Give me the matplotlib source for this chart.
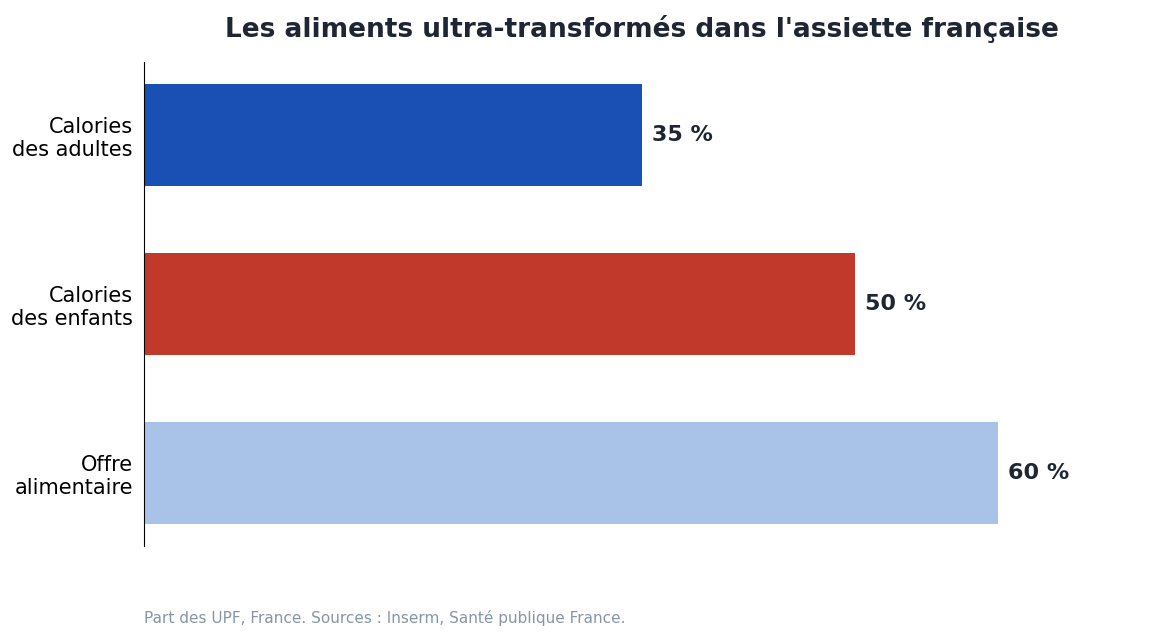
import matplotlib
matplotlib.use("Agg")
import matplotlib.pyplot as plt

categories = ["Calories\ndes adultes", "Calories\ndes enfants", "Offre\nalimentaire"]
values = [35, 50, 60]
colors = ["#1a4fb3", "#c0392b", "#a9c3e8"]

fig = plt.figure(figsize=(11.55, 6.41), dpi=100)
ax = fig.add_axes([144 / 1155, 1 - 546 / 641, 996 / 1155, 484 / 641])

pos = list(range(len(categories)))
ax.barh(pos, values, height=0.6, color=colors)
for p, v in zip(pos, values):
    ax.text(v + 0.7, p, f"{v} %", va="center", ha="left",
            fontsize=16, fontweight="bold", color="#1e2533")

ax.set_xlim(0, 70)
ax.set_ylim(2.43, -0.43)
ax.set_yticks(pos)
ax.set_yticklabels(categories, fontsize=15)
ax.tick_params(axis="y", length=0, pad=8)
ax.set_xticks([])
for s in ["top", "right", "bottom"]:
    ax.spines[s].set_visible(False)

fig.text(642 / 1155, 1 - 29 / 641, "Les aliments ultra-transformés dans l'assiette française",
         ha="center", va="center", fontsize=19, fontweight="bold", color="#1e2533")
fig.text(144 / 1155, 1 - 618 / 641, "Part des UPF, France. Sources : Inserm, Santé publique France.",
         ha="left", va="center", fontsize=11, color="#8795a5")

fig.savefig("out.png", dpi=100)
